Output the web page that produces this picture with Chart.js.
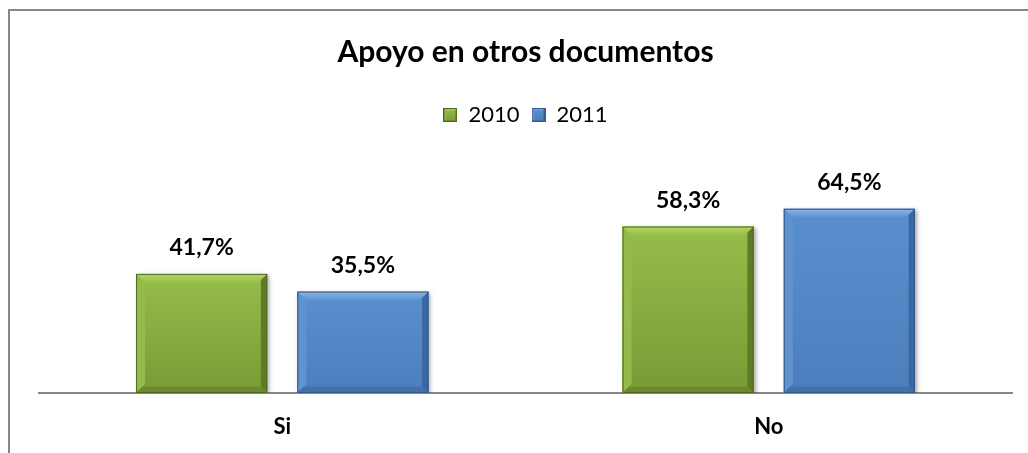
<!DOCTYPE html>
<html>
<head>
<meta charset="utf-8">
<script src="https://cdn.jsdelivr.net/npm/chart.js@4.4.0/dist/chart.umd.min.js"></script>
<style>
  html, body { margin: 0; padding: 0; background: #ffffff; }
  #wrap { width: 1028px; height: 453px; position: relative; }
</style>
</head>
<body>
<div id="wrap"><canvas id="c" width="1028" height="453"></canvas></div>
<script>
const chartTitle = 'Apoyo en otros documentos';
const categories = ['Si', 'No'];
const seriesLabels = ['2010', '2011'];
const values2010 = [41.7, 58.3];
const values2011 = [35.5, 64.5];

const FONT = 'Lato, "Open Sans", "DejaVu Sans", sans-serif';

const palettes = {
  green: { face: '#8db543', faceTop: '#96bd4a', faceBot: '#799a36', top: '#b4d46a', left: '#93ba4b', right: '#5f7b25', bottom: '#6b8a2d', edge: '#4f6a1f' },
  blue:  { face: '#5387c6', faceTop: '#5a8fce', faceBot: '#4c7ebc', top: '#8fb6e6', left: '#5f93d0', right: '#3a67a0', bottom: '#4270aa', edge: '#34598a' }
};
const dsPalettes = [palettes.green, palettes.blue];

function bevelRect(ctx, L, T, R, B, p, b) {
  const w = R - L, h = B - T;
  b = Math.min(b, w / 3, h / 3);
  const g = ctx.createLinearGradient(0, T, 0, B);
  g.addColorStop(0, p.faceTop);
  g.addColorStop(1, p.faceBot);
  ctx.fillStyle = g;
  ctx.fillRect(L, T, w, h);
  const poly = (pts, col) => {
    ctx.beginPath();
    ctx.moveTo(pts[0][0], pts[0][1]);
    for (let i = 1; i < pts.length; i++) ctx.lineTo(pts[i][0], pts[i][1]);
    ctx.closePath();
    ctx.fillStyle = col;
    ctx.fill();
  };
  const tg = ctx.createLinearGradient(0, T, 0, T + b);
  tg.addColorStop(0, p.top);
  tg.addColorStop(1, p.faceTop);
  poly([[L, T], [R, T], [R - b, T + b], [L + b, T + b]], tg);
  poly([[L, T], [L + b, T + b], [L + b, B - b], [L, B]], p.left);
  poly([[R, T], [R, B], [R - b * 0.7, B - b * 0.7], [R - b * 0.7, T + b * 0.7]], p.right);
  poly([[L, B], [L + b * 0.7, B - b * 0.7], [R - b * 0.7, B - b * 0.7], [R, B]], p.bottom);
  ctx.strokeStyle = p.edge;
  ctx.lineWidth = 1;
  ctx.strokeRect(L + 0.5, T + 0.5, w - 1, h - 1);
}

function legendIcon(p) {
  const cv = document.createElement('canvas');
  cv.width = 14; cv.height = 14;
  const cx = cv.getContext('2d');
  bevelRect(cx, 0, 0, 14, 14, p, 3);
  return cv;
}
const legendIcons = dsPalettes.map(legendIcon);

const framePlugin = {
  id: 'frame',
  beforeDraw(chart) {
    const ctx = chart.ctx;
    ctx.save();
    ctx.fillStyle = '#ffffff';
    ctx.fillRect(0, 0, chart.width, chart.height);
    ctx.strokeStyle = '#878787';
    ctx.lineWidth = 2;
    ctx.beginPath();
    ctx.moveTo(9, chart.height + 5);
    ctx.lineTo(9, 10);
    ctx.lineTo(chart.width + 5, 10);
    ctx.stroke();
    ctx.restore();
  }
};

const bevelPlugin = {
  id: 'bevel',
  beforeDatasetsDraw(chart) {
    const ctx = chart.ctx;
    ctx.save();
    ctx.shadowColor = 'rgba(0,0,0,0.35)';
    ctx.shadowBlur = 4;
    ctx.shadowOffsetX = 2;
    ctx.shadowOffsetY = 1;
  },
  afterDatasetsDraw(chart) {
    const ctx = chart.ctx;
    ctx.restore();
    ctx.save();
    chart.data.datasets.forEach((ds, di) => {
      const meta = chart.getDatasetMeta(di);
      meta.data.forEach((bar, i) => {
        const pr = bar.getProps(['x', 'y', 'base', 'width'], true);
        const L = pr.x - pr.width / 2, R = pr.x + pr.width / 2;
        const T = Math.min(pr.y, pr.base), B = Math.max(pr.y, pr.base);
        bevelRect(ctx, L, T, R, B, dsPalettes[di], 9);
        const v = ds.data[i];
        ctx.fillStyle = '#000000';
        ctx.font = 'bold 23px ' + FONT;
        ctx.textAlign = 'center';
        ctx.textBaseline = 'middle';
        ctx.fillText(v.toFixed(1).replace('.', ',') + '%', pr.x, T - 26);
      });
    });
    ctx.restore();
  }
};

new Chart(document.getElementById('c'), {
  type: 'bar',
  data: {
    labels: categories,
    datasets: [
      { label: seriesLabels[0], data: values2010, backgroundColor: palettes.green.face, borderWidth: 0, categoryPercentage: 0.663, barPercentage: 0.813 },
      { label: seriesLabels[1], data: values2011, backgroundColor: palettes.blue.face, borderWidth: 0, categoryPercentage: 0.663, barPercentage: 0.813 }
    ]
  },
  options: {
    responsive: false,
    animation: false,
    layout: { padding: { left: 39, right: 16, top: 10, bottom: 0 } },
    plugins: {
      tooltip: { enabled: false },
      title: {
        display: true,
        text: chartTitle,
        color: '#000000',
        font: { family: FONT, size: 30, weight: 'bold' },
        padding: { top: 24, bottom: 22 }
      },
      legend: {
        display: true,
        position: 'top',
        labels: {
          color: '#000000',
          font: { family: FONT, size: 22 },
          usePointStyle: true,
          boxWidth: 14,
          boxHeight: 14,
          padding: 12,
          generateLabels(chart) {
            const items = Chart.defaults.plugins.legend.labels.generateLabels(chart);
            items.forEach((it, i) => { it.pointStyle = legendIcons[i]; });
            return items;
          }
        }
      }
    },
    scales: {
      x: {
        grid: { display: false, drawTicks: false },
        border: { display: true, color: '#878787', width: 2 },
        ticks: { color: '#000000', font: { family: FONT, size: 22, weight: 'bold' }, padding: 21 },
        afterFit(scale) { scale.height = 60; }
      },
      y: {
        display: false,
        min: 0,
        max: 90
      }
    }
  },
  plugins: [framePlugin, bevelPlugin]
});
</script>
</body>
</html>
